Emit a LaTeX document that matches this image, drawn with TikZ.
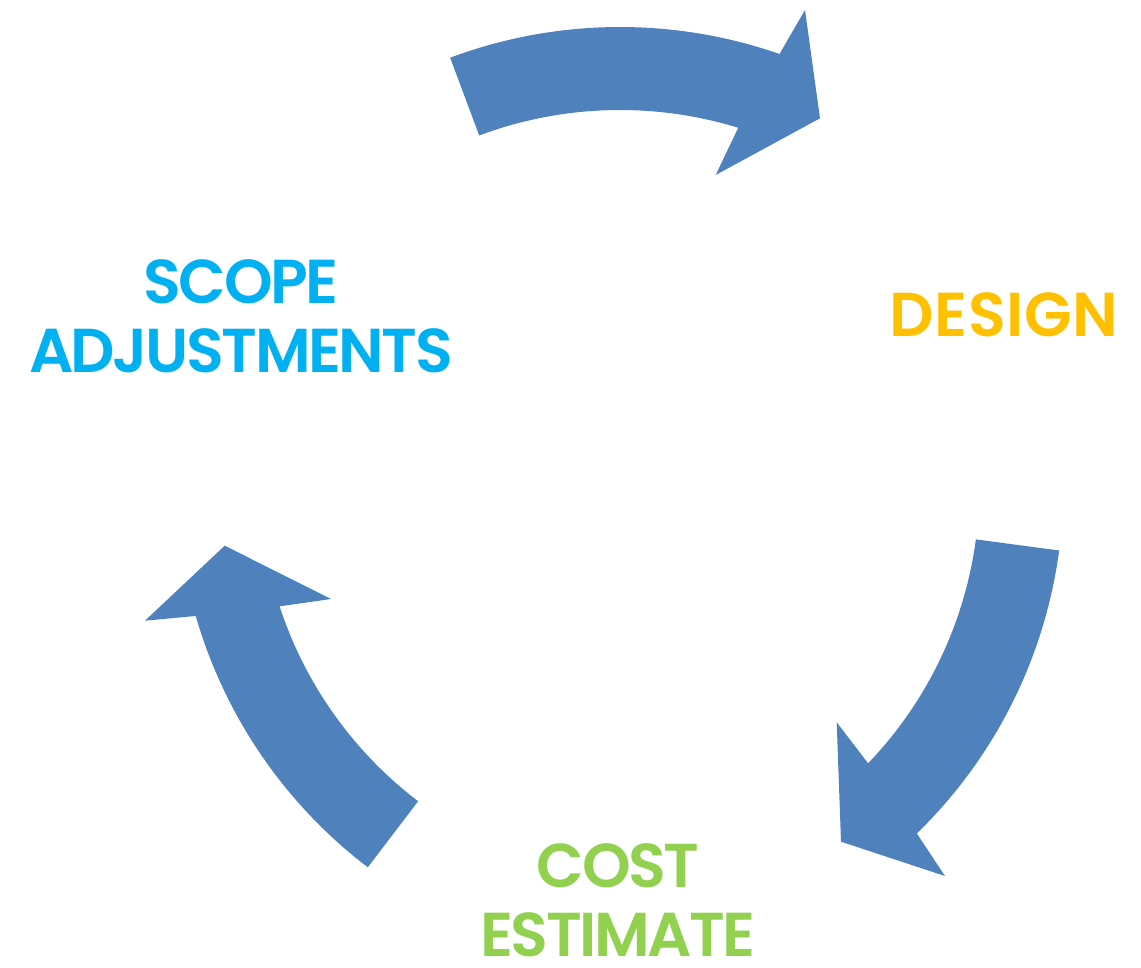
\documentclass[tikz,border=0pt]{standalone}
\usepackage{fontspec}
\setmainfont{Poppins}[BoldFont={* SemiBold}, LetterSpace=-4]
\usetikzlibrary{calc}

\definecolor{arrowblue}{HTML}{4F81BD}
\definecolor{scopecyan}{HTML}{00B0F0}
\definecolor{designgold}{HTML}{FFC000}
\definecolor{costgreen}{HTML}{92D050}

\tikzset{
  cyclearrow/.style={fill=arrowblue, draw=none},
  steplabel/.style={font=\bfseries\fontsize{31}{34.5}\selectfont, align=center, inner sep=0pt}
}

\begin{document}
\begin{tikzpicture}[x=0.5pt, y=0.5pt]
    \useasboundingbox (0,0) rectangle (1141,968);
    % arc centres
    \coordinate (top c) at (620,456);
    \coordinate (right c) at (579.4,481.5);
    \coordinate (left c) at (661.7,486.5);

    % top arrow
    \fill[cyclearrow] ($(top c)+(110.5:485)$) arc[start angle=110.5, end angle=70.8, radius=485]
        -- (805,958) -- (820,849.7) -- (715.7,793)
        -- ($(top c)+(72.9:402)$) arc[start angle=72.9, end angle=110.5, radius=402] -- cycle;

    % right arrow
    \fill[cyclearrow] ($(right c)+(-7.6:484)$) arc[start angle=-7.6, end angle=-45.8, radius=484]
        -- (945,92) -- (841,126.3) -- (836.7,245.7)
        -- ($(right c)+(-43.8:400)$) arc[start angle=-43.8, end angle=-7.6, radius=400] -- cycle;

    % left arrow
    \fill[cyclearrow] ($(left c)+(232.7:485)$) arc[start angle=232.7, end angle=196.1, radius=485]
        -- (145,347.3) -- (224.7,422.3) -- (331,369)
        -- ($(left c)+(198.1:402)$) arc[start angle=198.1, end angle=232.7, radius=402] -- cycle;

    % labels
    \node[steplabel, text=scopecyan] (scope) at (241,651.8) {SCOPE\\ADJUSTMENTS};
    \node[steplabel, text=designgold, font=\bfseries\fontsize{31}{34.5}\selectfont\addfontfeatures{LetterSpace=1}]
        (design) at (1004,653.3) {DESIGN};
    \node[steplabel, text=costgreen] (cost) at (618,68) {COST\\ESTIMATE};
\end{tikzpicture}
\end{document}
